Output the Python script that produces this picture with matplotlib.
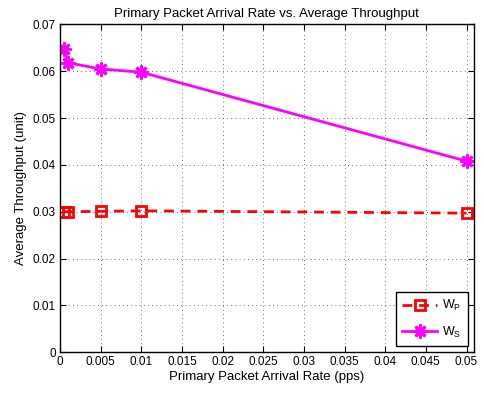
import matplotlib
matplotlib.use("Agg")
import matplotlib.pyplot as plt

plt.rcParams['font.family'] = ['Liberation Sans', 'DejaVu Sans']
plt.rcParams['mathtext.default'] = 'regular'

rates = [0.0005, 0.001, 0.005, 0.01, 0.05]
wp = [0.0300, 0.0300, 0.0301, 0.0302, 0.0297]
ws = [0.0648, 0.0618, 0.0605, 0.0598, 0.0408]
xticks = [0, 0.005, 0.01, 0.015, 0.02, 0.025, 0.03, 0.035, 0.04, 0.045, 0.05]
yticks = [0, 0.01, 0.02, 0.03, 0.04, 0.05, 0.06, 0.07]

fig = plt.figure(figsize=(4.84, 3.94), dpi=100)
ax = fig.add_axes([0.124, 0.106, 0.855, 0.832])
ax.plot(rates, wp, color='red', linestyle='--', linewidth=2, marker='s', markersize=6.5,
        markerfacecolor='none', markeredgewidth=2, dashes=(3.5, 2.5), label=r'W$_P$')
ax.plot(rates, ws, color='magenta', linestyle='-', linewidth=2, marker=(8, 2, 0), markersize=10,
        markeredgewidth=2, label=r'W$_S$')
ax.set_xlim(0, 0.0509)
ax.set_ylim(0, 0.07)
ax.set_xticks(xticks)
ax.set_xticklabels([('%g' % t) for t in xticks])
ax.set_yticks(yticks)
ax.set_yticklabels([('%g' % t) for t in yticks])
ax.tick_params(direction='in', top=True, right=True, labelsize=8.5, length=4, pad=3)
ax.grid(True, color='#444444', linestyle=(0, (1, 4)), linewidth=0.6)
for s in ax.spines.values():
    s.set_linewidth(1)
ax.set_xlabel('Primary Packet Arrival Rate (pps)', fontsize=9.5, labelpad=2)
ax.set_ylabel('Average Throughput (unit)', fontsize=9.5, labelpad=4)
ax.set_title('Primary Packet Arrival Rate vs. Average Throughput', fontsize=9.5, pad=5)
leg = ax.legend(loc='lower right', fontsize=9, fancybox=False, edgecolor='black',
                framealpha=1, handlelength=2.8, borderaxespad=0.5, handletextpad=0.4,
                labelspacing=0.9, borderpad=0.5)
leg.get_frame().set_linewidth(1)
fig.savefig('out.png', dpi=100)
